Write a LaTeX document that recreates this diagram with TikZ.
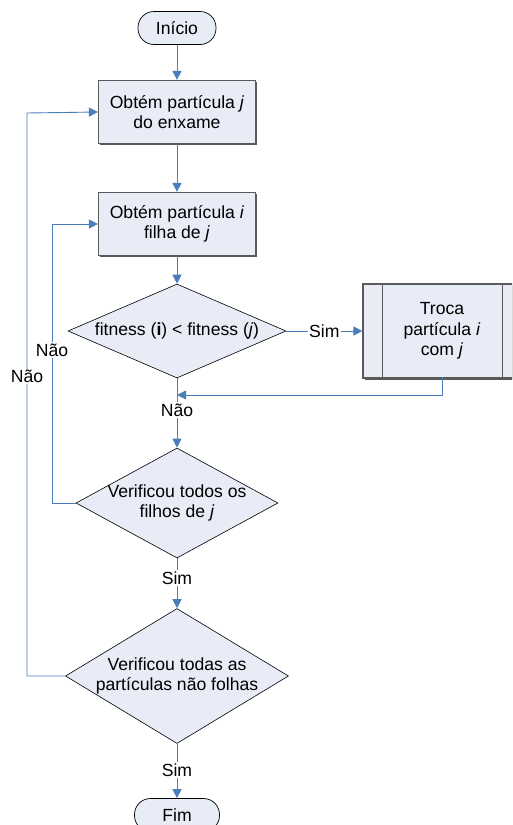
\documentclass[tikz,border=0pt]{standalone}
\usepackage{fontspec}
\setmainfont{Liberation Sans}
\usetikzlibrary{shapes.geometric,arrows.meta,shadows}
\definecolor{shapefill}{HTML}{E7ECF6}
\definecolor{flowline}{HTML}{4A7EBB}
\definecolor{boxedge}{HTML}{5A5A5A}
\begin{document}
\begin{tikzpicture}[x=1pt,y=-1pt,
  every node/.style={font=\fontsize{17.6}{20.5}\selectfont, align=center},
  terminal/.style={draw=black, fill=shapefill, rounded corners=16pt, line width=0.7pt,
    minimum width=#1, minimum height=33pt, inner sep=0pt},
  procbox/.style={draw=boxedge, fill=shapefill, line width=1.2pt,
    minimum width=157pt, minimum height=63pt, inner sep=0pt,
    drop shadow={shadow xshift=1.6pt, shadow yshift=-1.6pt, fill=black!65, opacity=1}},
  decision/.style 2 args={draw=black, fill=shapefill, diamond, line width=0.6pt,
    minimum width=#1, minimum height=#2, inner sep=0pt},
  flow/.style={draw=flowline, line width=0.9pt},
  arr/.style={flow, -{Triangle[width=9pt,length=9pt]}},
  lbl/.style={fill=white, inner sep=1.5pt}
]
\useasboundingbox (0,0) rectangle (512,825);
\begin{scope}
\clip (0,0) rectangle (512,825);

% main column of steps
\node[terminal=78pt] (ini) at (177,28) {Início};
\node[procbox] (b1) at (177,112) {Obtém partícula \textit{j}\\do enxame};
\node[procbox] (b2) at (177,224) {Obtém partícula \textit{i}\\filha de \textit{j}};
\node[decision={218pt}{94pt}] (d1) at (177,331) {};
\node (d1t) at (177,331) {fitness (\textbf{i}) < fitness (\textit{j})};
\node[decision={202pt}{110pt}] (d2) at (177,503) {};
\node (d2t) at (177,503) {Verificou todos os\\filhos de \textit{j}};
\node[decision={223pt}{135pt}] (d3) at (177,676) {};
\node (d3t) at (177,676) {Verificou todas as\\partículas não folhas};
\node[terminal=85pt] (fim) at (177,815) {Fim};

% swap step (predefined process)
\node[procbox, minimum width=150pt, minimum height=94pt] (b3) at (438,331) {};
\node (b3t) at (442,331) {Troca\\partícula \textit{i}\\com \textit{j}};
\draw[boxedge, line width=1.2pt] ([xshift=20pt]b3.north west) -- ([xshift=20pt]b3.south west);
\draw[boxedge, line width=1.2pt] ([xshift=-11pt]b3.north east) -- ([xshift=-11pt]b3.south east);

% junction and loop corners
\coordinate (j1) at (177,395);
\coordinate (inL) at (52,224);
\coordinate (outL) at (27,113);

% connectors
\draw[arr] (ini) -- (b1);
\draw[arr] (b1) -- (b2);
\draw[arr] (b2) -- (d1.north);
\draw[arr] (d1.east) -- node[lbl, pos=0.5] {Sim} (b3.west);
\draw[arr] ([yshift=1.6pt]b3t |- b3.south) |- (j1);
\draw[arr] (d1.south) -- node[lbl, pos=0.46] {Não} (d2.north);
\draw[arr] (d2.south) -- node[lbl, pos=0.4] {Sim} (d3.north);
\draw[arr] (d3.south) -- node[lbl, pos=0.48] {Sim} (fim.north);
\draw[arr] (d2.west) -| node[lbl, pos=0.774] {Não} (inL) -- (b2.west);
\draw[arr] (d3.west) -| node[lbl, pos=0.766] {Não} (outL) -- (b1.west);
\end{scope}
\end{tikzpicture}
\end{document}
